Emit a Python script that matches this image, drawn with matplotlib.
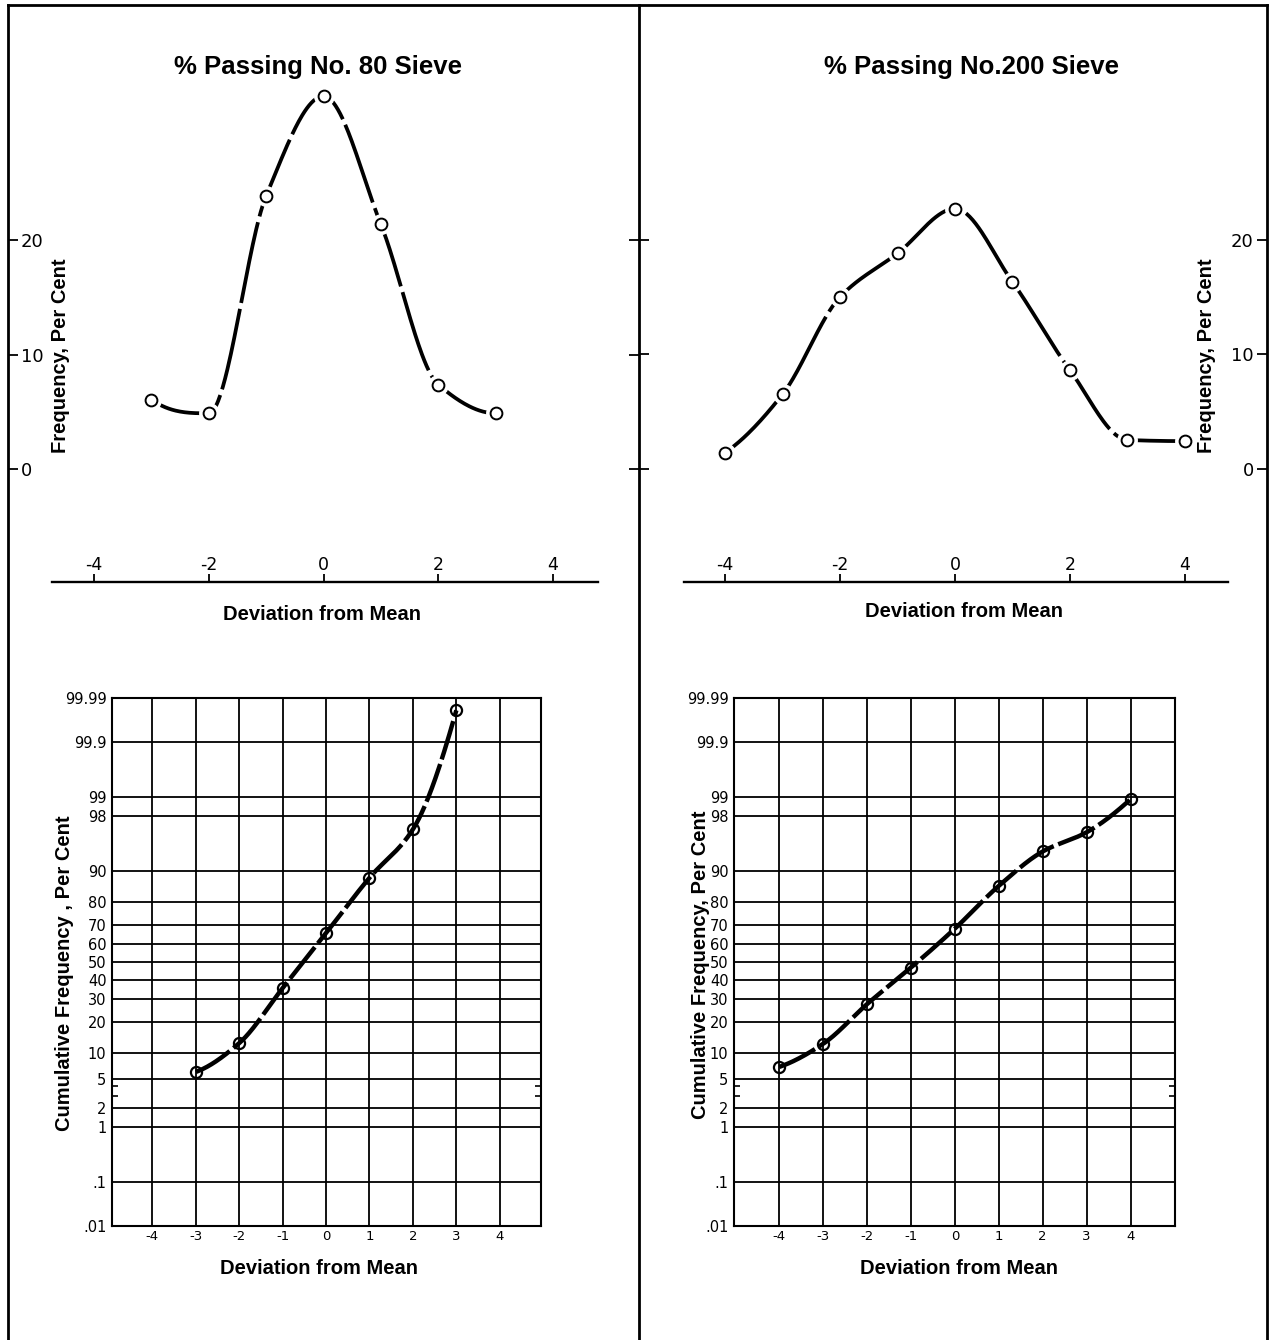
import matplotlib
matplotlib.use("Agg")
import matplotlib.pyplot as plt
import numpy as np
from matplotlib.lines import Line2D
from matplotlib.ticker import FixedLocator, NullFormatter
from statistics import NormalDist

W, H = 1278, 1340

# --- data ---
dev80 = [-3, -2, -1, 0, 1, 2, 3]
freq80 = [6.1, 4.9, 23.9, 32.6, 21.4, 7.4, 4.9]
cum80 = [6.1, 12.7, 35.7, 65.8, 88.2, 96.9, 99.98]

dev200 = [-4, -3, -2, -1, 0, 1, 2, 3, 4]
freq200 = [1.4, 6.5, 15.0, 18.8, 22.7, 16.3, 8.6, 2.5, 2.4]
cum200 = [7.0, 12.5, 27.7, 46.9, 68.1, 85.8, 94.0, 96.6, 98.9]

freq_ticks = [0, 10, 20]
top_xticks = [-4, -2, 0, 2, 4]
bot_xticks = [-4, -3, -2, -1, 0, 1, 2, 3, 4]
prob_ticks = [0.01, 0.1, 1, 2, 5, 10, 20, 30, 40, 50, 60, 70, 80, 90, 98, 99, 99.9, 99.99]
prob_labels = [".01", ".1", "1", "2", "5", "10", "20", "30", "40", "50",
               "60", "70", "80", "90", "98", "99", "99.9", "99.99"]

plt.rcParams["font.family"] = ["DejaVu Sans"]
LBL = dict(family=["Liberation Sans", "DejaVu Sans"], fontweight="bold", fontsize=14.5)

_nd = NormalDist()
_ppf = np.vectorize(_nd.inv_cdf, otypes=[float])
_cdf = np.vectorize(_nd.cdf, otypes=[float])


def probit(p):
    p = np.clip(np.asarray(p, float) / 100.0, 1e-9, 1 - 1e-9)
    return _ppf(p)


def inv_probit(z):
    return _cdf(np.asarray(z, float)) * 100.0


def smooth(x, y, n=300):
    # shape-preserving cubic (pchip) through the points, used only to draw the curve
    x = np.asarray(x, float)
    y = np.asarray(y, float)
    k = len(x)
    h = np.diff(x)
    dl = np.diff(y) / h
    d = np.zeros(k)
    for i in range(1, k - 1):
        if dl[i - 1] * dl[i] > 0:
            w1 = 2 * h[i] + h[i - 1]
            w2 = h[i] + 2 * h[i - 1]
            d[i] = (w1 + w2) / (w1 / dl[i - 1] + w2 / dl[i])
    for j, (a, b, ha, hb) in [(0, (dl[0], dl[1], h[0], h[1])),
                              (k - 1, (dl[-1], dl[-2], h[-1], h[-2]))]:
        e = ((2 * ha + hb) * a - ha * b) / (ha + hb)
        if np.sign(e) != np.sign(a):
            e = 0.0
        elif np.sign(a) != np.sign(b) and abs(e) > abs(3 * a):
            e = 3 * a
        d[j] = e
    xs = np.linspace(x[0], x[-1], n)
    idx = np.clip(np.searchsorted(x, xs) - 1, 0, k - 2)
    t = (xs - x[idx]) / h[idx]
    h00 = 2 * t ** 3 - 3 * t ** 2 + 1
    h10 = t ** 3 - 2 * t ** 2 + t
    h01 = -2 * t ** 3 + 3 * t ** 2
    h11 = t ** 3 - t ** 2
    ys = h00 * y[idx] + h10 * h[idx] * d[idx] + h01 * y[idx + 1] + h11 * h[idx] * d[idx + 1]
    return xs, ys


def pxbox(x0, y0, x1, y1):
    return [x0 / W, 1 - y1 / H, (x1 - x0) / W, (y1 - y0) / H]


def pf(x, y):
    return x / W, 1 - y / H


fig = plt.figure(figsize=(W / 100, H / 100), dpi=100)

# frame lines
for xs_, ys_ in [([7.5, 7.5], [5, H]), ([639, 639], [5, H]), ([1267, 1267], [5, H]),
                 ([7.5, 1267], [5, 5])]:
    fig.add_artist(Line2D([x / W for x in xs_], [1 - y / H for y in ys_],
                          transform=fig.transFigure, color="black", lw=2.0))


def top_panel(box, xlim, ylim, dev, freq, title, tpos, side, ylab_pos, xlab_pos, bounds, spine_y):
    ax = fig.add_axes(box)
    ax.set_facecolor("none")
    ax.set_xlim(*xlim)
    ax.set_ylim(*ylim)
    for s in ["top", "left", "right"]:
        ax.spines[s].set_visible(False)
    ax.spines["bottom"].set_position(("data", spine_y))
    ax.spines["bottom"].set_bounds(*bounds)
    ax.spines["bottom"].set_linewidth(1.7)
    ax.set_xticks(top_xticks, [str(v) for v in top_xticks])
    ax.tick_params(axis="x", direction="in", length=6, width=1.3, pad=-18.7, labelsize=12.5)
    ax.set_yticks(freq_ticks, [str(v) for v in freq_ticks])
    ax.tick_params(axis="y", direction="in", left=True, right=True, length=7, width=1.3,
                   labelleft=(side == "left"), labelright=(side == "right"),
                   pad=-9.5, labelsize=13)
    plt.setp(ax.get_yticklabels(), ha="left" if side == "left" else "right")

    xs, ys = smooth(dev, freq)
    ax.plot(xs, ys, color="black", lw=2.7, ls=(0, (22, 1.6)), solid_capstyle="butt", zorder=2)
    ax.plot(dev, freq, "o", ms=14, color="white", zorder=3)
    ax.plot(dev, freq, "o", ms=8.5, mfc="white", mec="black", mew=1.4, zorder=4)

    ax.set_title(title, y=tpos[1], pad=0, va="center", family=LBL["family"],
                 fontweight="bold", fontsize=18.5)
    ax.title.set_x(tpos[0])

    ax.set_ylabel("Frequency, Per Cent", **LBL)
    if side == "right":
        ax.yaxis.set_label_position("right")
    ax.yaxis.set_label_coords(*pf(*ylab_pos), transform=fig.transFigure)
    ax.yaxis.label.set_va("center")
    ax.yaxis.label.set_rotation(90)
    ax.set_xlabel("Deviation from Mean", **LBL)
    ax.xaxis.set_label_coords(*pf(*xlab_pos), transform=fig.transFigure)
    ax.xaxis.label.set_va("center")
    return ax


def bottom_panel(box, xlim, dev, cum, ylabel, ylab_pos, xlab_pos):
    ax = fig.add_axes(box)
    ax.set_yscale("function", functions=(probit, inv_probit))
    ax.set_ylim(0.01, 99.99)
    ax.set_xlim(*xlim)
    ax.yaxis.set_major_locator(FixedLocator(prob_ticks))
    ax.set_yticklabels(prob_labels)
    ax.yaxis.set_minor_locator(FixedLocator([3, 4]))
    ax.yaxis.set_minor_formatter(NullFormatter())
    ax.set_xticks(bot_xticks, [str(v) for v in bot_xticks])
    ax.grid(True, which="major", color="black", lw=1.3)
    for s in ax.spines.values():
        s.set_linewidth(1.5)
    ax.tick_params(axis="both", which="major", length=0, labelsize=10.5, pad=4)
    ax.tick_params(axis="x", which="major", labelsize=9.5, pad=2.5)
    ax.tick_params(axis="y", which="minor", direction="in", left=True, right=True,
                   length=4, width=1.2)

    z = probit(cum)
    xs, zs = smooth(dev, z)
    ax.plot(xs, inv_probit(zs), color="black", lw=3.2, ls=(0, (9, 1.1)),
            solid_capstyle="butt", zorder=3)
    ax.plot(dev, cum, "o", ms=8, mfc="none", mec="black", mew=1.6, zorder=4)

    ax.set_ylabel(ylabel, **LBL)
    ax.yaxis.set_label_coords(*pf(*ylab_pos), transform=fig.transFigure)
    ax.yaxis.label.set_va("center")
    ax.set_xlabel("Deviation from Mean", **LBL)
    ax.xaxis.set_label_coords(*pf(*xlab_pos), transform=fig.transFigure)
    ax.xaxis.label.set_va("center")
    return ax


top_panel(pxbox(7.5, 5, 639, 640), (-5.51, 5.50), (-14.9, 40.56), dev80, freq80,
          "% Passing No. 80 Sieve", (0.4917, 0.9024), "left", (60, 356), (322, 614),
          (-4.74, 4.79), -9.83)
top_panel(pxbox(639, 5, 1267, 640), (-5.50, 5.43), (-14.97, 40.49), dev200, freq200,
          "% Passing No.200 Sieve", (0.5287, 0.9024), "right", (1206, 356), (964, 612),
          (-4.71, 4.75), -9.87)

bottom_panel(pxbox(112, 697.6, 541, 1226.4), (-4.93, 4.95), dev80, cum80,
             "Cumulative Frequency , Per Cent", (65, 973), (319, 1269))
bottom_panel(pxbox(734, 697.6, 1174.5, 1226.4), (-5.03, 5.0), dev200, cum200,
             "Cumulative Frequency, Per Cent", (700, 965), (959, 1269))

fig.savefig("out.png", dpi=100)
